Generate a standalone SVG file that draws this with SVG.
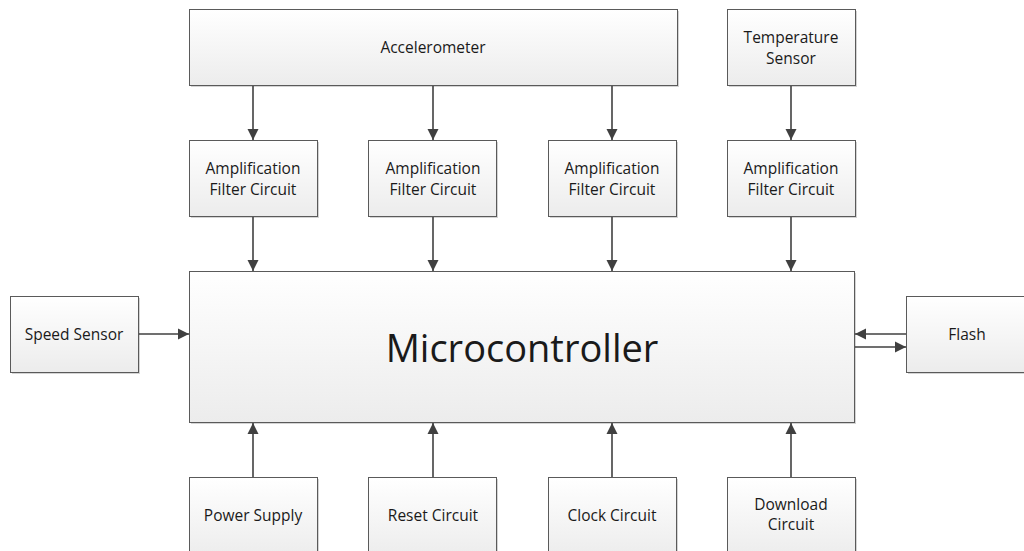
<svg xmlns="http://www.w3.org/2000/svg" width="1024" height="551" viewBox="0 0 1024 551">
<style>
.box{fill:url(#g);stroke:#5a5a5a;stroke-width:1}
.sh{fill:#d4d4d4}
.t{font-family:"Open Sans","Liberation Sans",sans-serif;font-size:15.5px;fill:#1a1a1a;text-anchor:middle}
.big{font-size:38px}
.c{stroke:#404040;stroke-width:1.6;fill:none;marker-end:url(#a)}
</style>
<defs>
<linearGradient id="g" x1="0" y1="0" x2="0" y2="1">
<stop offset="0" stop-color="#ffffff"/>
<stop offset="1" stop-color="#ececec"/>
</linearGradient>
<marker id="a" viewBox="0 0 10 10" refX="10" refY="5" markerWidth="7" markerHeight="7" markerUnits="strokeWidth" orient="auto">
<path d="M0,0 L10,5 L0,10 z" fill="#404040"/>
</marker>
</defs>
<rect width="1024" height="551" fill="#ffffff"/>
<g id="accelerometer"><rect class="sh" x="191" y="11" width="488" height="76"/><rect class="box" x="189.5" y="9.5" width="488" height="76"/><text class="t" x="433" y="53">Accelerometer</text></g>
<g id="temperature-sensor"><rect class="sh" x="729" y="11" width="128" height="76"/><rect class="box" x="727.5" y="9.5" width="128" height="76"/><text class="t" x="791" y="43">Temperature</text><text class="t" x="791" y="64">Sensor</text></g>
<g id="amp1"><rect class="sh" x="191" y="142" width="128" height="76"/><rect class="box" x="189.5" y="140.5" width="128" height="76"/><text class="t" x="253" y="174">Amplification</text><text class="t" x="253" y="195">Filter Circuit</text></g>
<g id="amp2"><rect class="sh" x="370" y="142" width="128" height="76"/><rect class="box" x="368.5" y="140.5" width="128" height="76"/><text class="t" x="433" y="174">Amplification</text><text class="t" x="433" y="195">Filter Circuit</text></g>
<g id="amp3"><rect class="sh" x="550" y="142" width="128" height="76"/><rect class="box" x="548.5" y="140.5" width="128" height="76"/><text class="t" x="612" y="174">Amplification</text><text class="t" x="612" y="195">Filter Circuit</text></g>
<g id="amp4"><rect class="sh" x="729" y="142" width="128" height="76"/><rect class="box" x="727.5" y="140.5" width="128" height="76"/><text class="t" x="791" y="174">Amplification</text><text class="t" x="791" y="195">Filter Circuit</text></g>
<g id="microcontroller"><rect class="sh" x="191" y="273" width="665" height="151"/><rect class="box" x="189.5" y="271.5" width="665" height="151"/><text class="t big" x="522" y="362">Microcontroller</text></g>
<g id="speed-sensor"><rect class="sh" x="12" y="298" width="128" height="76"/><rect class="box" x="10.5" y="296.5" width="128" height="76"/><text class="t" x="74" y="340">Speed Sensor</text></g>
<g id="flash"><rect class="sh" x="908" y="298" width="128" height="76"/><rect class="box" x="906.5" y="296.5" width="128" height="76"/><text class="t" x="967" y="340">Flash</text></g>
<g id="power-supply"><rect class="sh" x="191" y="479" width="128" height="80"/><rect class="box" x="189.5" y="477.5" width="128" height="80"/><text class="t" x="253" y="521">Power Supply</text></g>
<g id="reset-circuit"><rect class="sh" x="370" y="479" width="128" height="80"/><rect class="box" x="368.5" y="477.5" width="128" height="80"/><text class="t" x="433" y="521">Reset Circuit</text></g>
<g id="clock-circuit"><rect class="sh" x="550" y="479" width="128" height="80"/><rect class="box" x="548.5" y="477.5" width="128" height="80"/><text class="t" x="612" y="521">Clock Circuit</text></g>
<g id="download-circuit"><rect class="sh" x="729" y="479" width="128" height="80"/><rect class="box" x="727.5" y="477.5" width="128" height="80"/><text class="t" x="791" y="510">Download</text><text class="t" x="791" y="530">Circuit</text></g>
<g id="connectors">
<line class="c" x1="253" y1="86" x2="253" y2="140"/>
<line class="c" x1="433" y1="86" x2="433" y2="140"/>
<line class="c" x1="612" y1="86" x2="612" y2="140"/>
<line class="c" x1="791" y1="86" x2="791" y2="140"/>
<line class="c" x1="253" y1="217" x2="253" y2="271"/>
<line class="c" x1="433" y1="217" x2="433" y2="271"/>
<line class="c" x1="612" y1="217" x2="612" y2="271"/>
<line class="c" x1="791" y1="217" x2="791" y2="271"/>
<line class="c" x1="139" y1="334" x2="189" y2="334"/>
<line class="c" x1="906" y1="334" x2="855" y2="334"/>
<line class="c" x1="855" y1="347" x2="906" y2="347"/>
<line class="c" x1="253" y1="477" x2="253" y2="423"/>
<line class="c" x1="433" y1="477" x2="433" y2="423"/>
<line class="c" x1="612" y1="477" x2="612" y2="423"/>
<line class="c" x1="791" y1="477" x2="791" y2="423"/>
</g>
</svg>
